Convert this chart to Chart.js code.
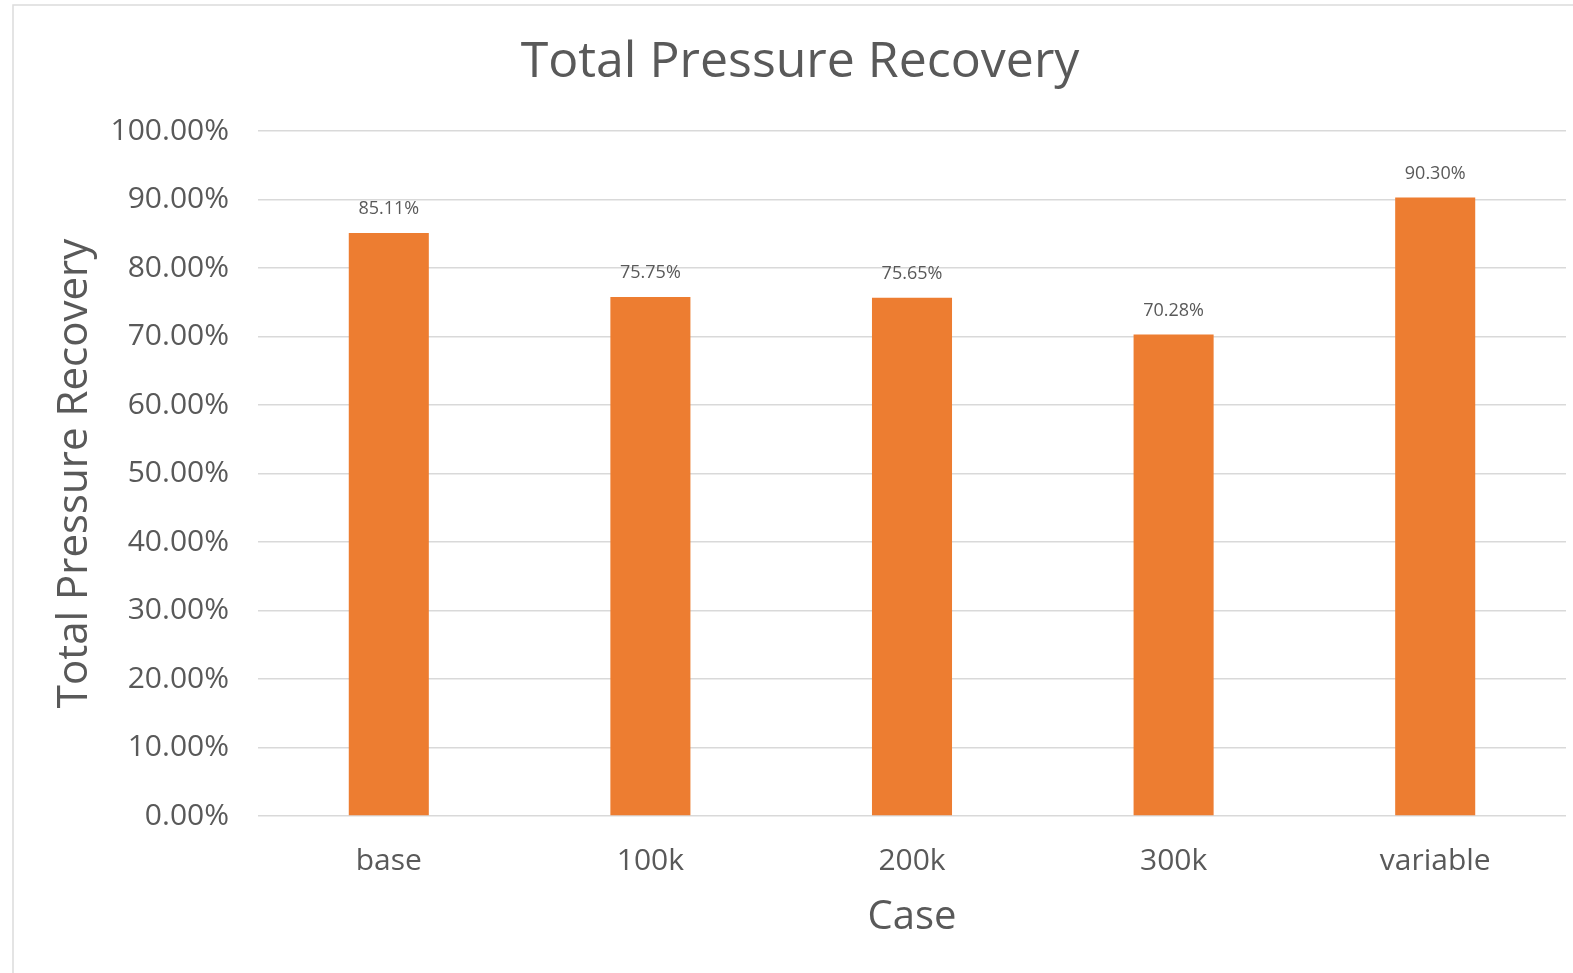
<!DOCTYPE html>
<html>
<head>
<meta charset="utf-8">
<script src="https://cdn.jsdelivr.net/npm/chart.js@4/dist/chart.umd.min.js"></script>
<style>
  html, body { margin: 0; padding: 0; background: #ffffff; }
  #wrap { width: 1573px; height: 973px; }
</style>
</head>
<body>
<div id="wrap"><canvas id="chart" width="1573" height="973"></canvas></div>
<script>
// Total pressure recovery per case
const cases = ['base', '100k', '200k', '300k', 'variable'];
const recovery = [0.8511, 0.7575, 0.7565, 0.7028, 0.9030];
const recoveryLabels = ['85.11%', '75.75%', '75.65%', '70.28%', '90.30%'];

const FONT = "'Open Sans', 'Liberation Sans', sans-serif";
const TEXT = '#595959';
const GRID = '#d9d9d9';
const BAR = '#ed7d31';

// Light frame around the chart, running past the right and bottom edges
const framePlugin = {
  id: 'frame',
  beforeDraw(chart) {
    const ctx = chart.ctx;
    ctx.save();
    ctx.fillStyle = '#ffffff';
    ctx.fillRect(0, 0, chart.width, chart.height);
    ctx.strokeStyle = '#dcdcdc';
    ctx.lineWidth = 1.5;
    ctx.strokeRect(13, 5, chart.width + 20, chart.height + 20);
    ctx.restore();
  }
};

// Value labels above each bar
const valueLabels = {
  id: 'valueLabels',
  afterDatasetsDraw(chart) {
    const ctx = chart.ctx;
    const meta = chart.getDatasetMeta(0);
    ctx.save();
    ctx.font = "18px " + FONT;
    ctx.fillStyle = TEXT;
    ctx.textAlign = 'center';
    ctx.textBaseline = 'middle';
    meta.data.forEach((bar, i) => {
      ctx.fillText(recoveryLabels[i], bar.x, bar.y - 24);
    });
    ctx.restore();
  }
};

new Chart(document.getElementById('chart'), {
  type: 'bar',
  data: {
    labels: cases,
    datasets: [{
      data: recovery,
      backgroundColor: BAR,
      borderWidth: 0,
      categoryPercentage: 1,
      barPercentage: 0.306
    }]
  },
  options: {
    responsive: false,
    animation: false,
    devicePixelRatio: 1,
    layout: { padding: { top: 18, right: 7, bottom: 0, left: 34 } },
    plugins: {
      legend: { display: false },
      tooltip: { enabled: false },
      title: {
        display: true,
        text: 'Total Pressure Recovery',
        color: TEXT,
        font: { family: FONT, size: 50, weight: 'normal' },
        padding: { top: 15, bottom: 38 }
      }
    },
    scales: {
      x: {
        grid: { display: false, drawTicks: false },
        border: { display: false },
        ticks: { color: TEXT, font: { family: FONT, size: 30 }, padding: 27 },
        title: {
          display: true,
          text: 'Case',
          color: TEXT,
          font: { family: FONT, size: 40 },
          padding: { top: 0, bottom: 31 }
        },
        afterFit(scale) { scale.height = 157; }
      },
      y: {
        min: 0,
        max: 1,
        grid: { color: GRID, lineWidth: 1.5, drawTicks: false },
        border: { display: false },
        ticks: {
          stepSize: 0.1,
          color: TEXT,
          font: { family: FONT, size: 30 },
          padding: 29,
          callback: v => (v * 100).toFixed(2) + '%'
        },
        title: {
          display: true,
          text: 'Total Pressure Recovery',
          color: TEXT,
          font: { family: FONT, size: 42 },
          padding: { top: 16, bottom: 0 }
        },
        afterFit(scale) { scale.width = 224; }
      }
    }
  },
  plugins: [framePlugin, valueLabels]
});
</script>
</body>
</html>
